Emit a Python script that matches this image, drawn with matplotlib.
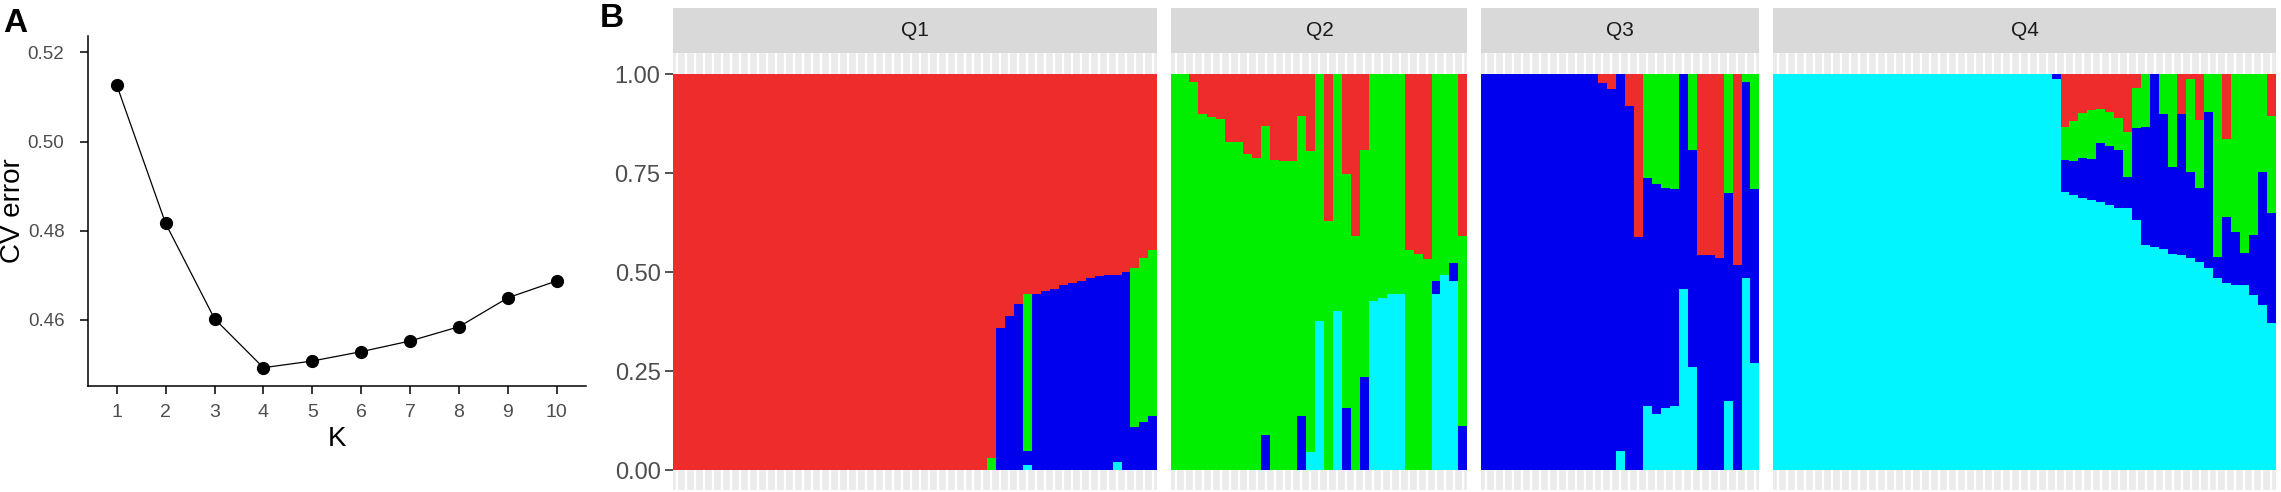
import numpy as np
import matplotlib
matplotlib.use("Agg")
import matplotlib.pyplot as plt
from matplotlib import font_manager

# ---- panel A: cross-validation error for each K ----
k_values = [1, 2, 3, 4, 5, 6, 7, 8, 9, 10]
cv_error = [0.5127, 0.4816, 0.4602, 0.4492, 0.4507, 0.4528, 0.4552, 0.4584, 0.4649, 0.4687]
cv_ticks = [0.46, 0.48, 0.50, 0.52]
cv_tick_labels = ["0.46", "0.48", "0.50", "0.52"]

# ---- panel B: ancestry proportions per individual (stacked bottom -> top: cyan, blue, green, red) ----
groups = ["Q1", "Q2", "Q3", "Q4"]
struct_ticks = [0.0, 0.25, 0.5, 0.75, 1.0]
struct_tick_labels = ["0.00", "0.25", "0.50", "0.75", "1.00"]

q1_cyan = [0] * 39 + [0.013] + [0] * 9 + [0.02] + [0] * 4
q1_blue = [0] * 36 + [0.36, 0.39, 0.42, 0.036, 0.446, 0.454, 0.458, 0.467, 0.473, 0.479,
                      0.486, 0.490, 0.492, 0.474, 0.500, 0.11, 0.123, 0.136]
q1_green = [0] * 35 + [0.03, 0, 0, 0, 0.397] + [0] * 11 + [0.401, 0.414, 0.42]
q1_red = [1] * 35 + [0.97, 0.64, 0.61, 0.58, 0.554, 0.554, 0.546, 0.542, 0.533, 0.527,
                     0.521, 0.514, 0.510, 0.508, 0.506, 0.500, 0.489, 0.463, 0.444]

q2_cyan = [0] * 15 + [0.046, 0.376, 0, 0.403, 0, 0, 0, 0.427, 0.435, 0.444, 0.444,
                      0, 0, 0, 0.446, 0.494, 0.478, 0]
q2_blue = [0] * 10 + [0.089, 0, 0, 0, 0.136, 0, 0, 0, 0, 0.158, 0, 0.236, 0, 0, 0, 0,
                      0, 0, 0, 0.031, 0, 0.046, 0.112]
q2_green = [1, 1, 0.98, 0.90, 0.893, 0.888, 0.828, 0.828, 0.798, 0.788, 0.78, 0.783,
            0.78, 0.78, 0.758, 0.76, 0.624, 0.63, 0.597, 0.59, 0.592, 0.574, 0.573,
            0.565, 0.556, 0.556, 0.556, 0.546, 0.533, 0.523, 0.506, 0.476, 0.48]
q2_red = [0, 0, 0.02, 0.10, 0.107, 0.112, 0.172, 0.172, 0.202, 0.212, 0.131, 0.217,
          0.22, 0.22, 0.106, 0.194, 0, 0.37, 0, 0.252, 0.408, 0.19, 0, 0, 0, 0,
          0.444, 0.454, 0.467, 0, 0, 0, 0.408]

q3_cyan = [0] * 15 + [0.048, 0, 0, 0.163, 0.143, 0.158, 0.163, 0.458, 0.261, 0, 0, 0,
                      0.174, 0, 0.485, 0.271]
q3_blue = [1] * 13 + [0.979, 0.963, 0.952, 0.919, 0.59, 0.576, 0.58, 0.556, 0.547,
                      0.542, 0.548, 0.544, 0.544, 0.535, 0.526, 0.518, 0.497, 0.439]
q3_green = [0] * 18 + [0.261, 0.277, 0.286, 0.29, 0, 0.191, 0, 0, 0, 0.30, 0, 0.018, 0.29]
q3_red = [0] * 13 + [0.021, 0.037, 0, 0.081, 0.41, 0, 0, 0, 0, 0, 0, 0.456, 0.456,
                     0.465, 0, 0.482, 0, 0]

q4_cyan = [1] * 31 + [0.988, 0.704, 0.695, 0.687, 0.683, 0.678, 0.670, 0.662, 0.662,
                      0.632, 0.569, 0.565, 0.560, 0.545, 0.544, 0.535, 0.527, 0.510,
                      0.485, 0.472, 0.468, 0.468, 0.442, 0.417, 0.371]
q4_blue = [0] * 31 + [0.012, 0.080, 0.086, 0.103, 0.103, 0.148, 0.148, 0.147, 0.080,
                      0.232, 0.299, 0.435, 0.339, 0.222, 0.355, 0.218, 0.187, 0.396,
                      0.054, 0.167, 0.135, 0.080, 0.152, 0.336, 0.278]
q4_green = [0] * 32 + [0.084, 0.100, 0.112, 0.124, 0.086, 0.088, 0.080, 0.113, 0.101,
                       0.132, 0, 0.101, 0.233, 0, 0.235, 0.171, 0.094, 0.461, 0.198,
                       0.397, 0.452, 0.406, 0.247, 0.246]
q4_red = [0] * 32 + [0.132, 0.119, 0.098, 0.090, 0.088, 0.094, 0.111, 0.145, 0.035,
                     0, 0, 0, 0, 0.101, 0.012, 0.115, 0, 0, 0.163, 0, 0, 0, 0, 0.105]

ancestry_colors = ["#00F5FF", "#0000EE", "#00EE00", "#EE2C2C"]

W, H = 2281, 492
installed = {f.name for f in font_manager.fontManager.ttflist}
regular = "Liberation Sans" if "Liberation Sans" in installed else "DejaVu Sans"
narrow = "Liberation Sans Narrow" if "Liberation Sans Narrow" in installed else regular
plt.rcParams["font.family"] = [regular, "DejaVu Sans"]


def box(x0, y0, x1, y1):
    # pixel box (top-left origin) -> figure fraction rect
    return [x0 / W, 1 - y1 / H, (x1 - x0) / W, (y1 - y0) / H]


fig = plt.figure(figsize=(W / 100, H / 100), dpi=100)

# ---- A ----
axA = fig.add_axes(box(88, 36, 585.5, 385.5))
axA.plot(k_values, cv_error, color="black", lw=0.9, marker="o", ms=8.5, zorder=3)
axA.set_xlim(0.413, 10.587)
axA.set_ylim(0.4452, 0.5237)
axA.set_xticks(k_values)
axA.set_xticklabels([str(k) for k in k_values], family=narrow, fontsize=14, color="#4D4D4D")
axA.set_yticks(cv_ticks)
axA.set_yticklabels(cv_tick_labels, family=narrow, fontsize=13.5, color="#4D4D4D")
axA.tick_params(axis="y", length=6, width=1.1, pad=11)
axA.tick_params(axis="x", length=6, width=1.1, pad=7)
for side in ["top", "right"]:
    axA.spines[side].set_visible(False)
for side in ["left", "bottom"]:
    axA.spines[side].set_linewidth(1.1)
axA.set_ylabel("CV error", fontsize=20)
axA.set_xlabel("K", fontsize=20)
axA.yaxis.set_label_coords(-0.125, 0.5)
axA.xaxis.set_label_coords(0.5, -0.115)
fig.text(3 / W, 1 - 8 / H, "A", fontsize=24, fontweight="bold", va="top", ha="left")

# ---- B ----
facets = [
    (q1_cyan, q1_blue, q1_green, q1_red),
    (q2_cyan, q2_blue, q2_green, q2_red),
    (q3_cyan, q3_blue, q3_green, q3_red),
    (q4_cyan, q4_blue, q4_green, q4_red),
]
bar_px = 8.97
gap_px = 14
x_start = 673
for i, (name, comps) in enumerate(zip(groups, facets)):
    n = len(comps[0])
    x_end = x_start + n * bar_px
    ax = fig.add_axes(box(x_start, 53, x_end, 490))
    ax.set_facecolor("#EBEBEB")
    idx = np.arange(n)
    for xi in idx:
        ax.axvline(xi, color="white", lw=1.7, zorder=0)
    bottom = np.zeros(n)
    for vals, col in zip(comps, ancestry_colors):
        vals = np.array(vals, dtype=float)
        ax.bar(idx, vals, width=1.0, bottom=bottom, color=col, linewidth=0,
               antialiased=False, zorder=2)
        bottom += vals
    ax.set_xlim(-0.5, n - 0.5)
    ax.set_ylim(-0.05, 1.054)
    for s in ax.spines.values():
        s.set_visible(False)
    ax.set_xticks([])
    if i == 0:
        ax.set_yticks(struct_ticks)
        ax.set_yticklabels(struct_tick_labels, fontsize=17, color="#4D4D4D")
        ax.tick_params(axis="y", length=6, width=1.2, color="#333333", pad=3)
    else:
        ax.set_yticks([])

    strip = fig.add_axes(box(x_start, 8, x_end, 53))
    strip.set_facecolor("#D9D9D9")
    strip.set_xticks([])
    strip.set_yticks([])
    for s in strip.spines.values():
        s.set_visible(False)
    strip.text(0.5, 0.5, name, ha="center", va="center", fontsize=15, color="#1A1A1A",
               transform=strip.transAxes)

    x_start = x_end + gap_px

fig.text(600 / W, 1 - 3 / H, "B", fontsize=24, fontweight="bold", va="top", ha="left")

fig.savefig("out.png", dpi=100)
